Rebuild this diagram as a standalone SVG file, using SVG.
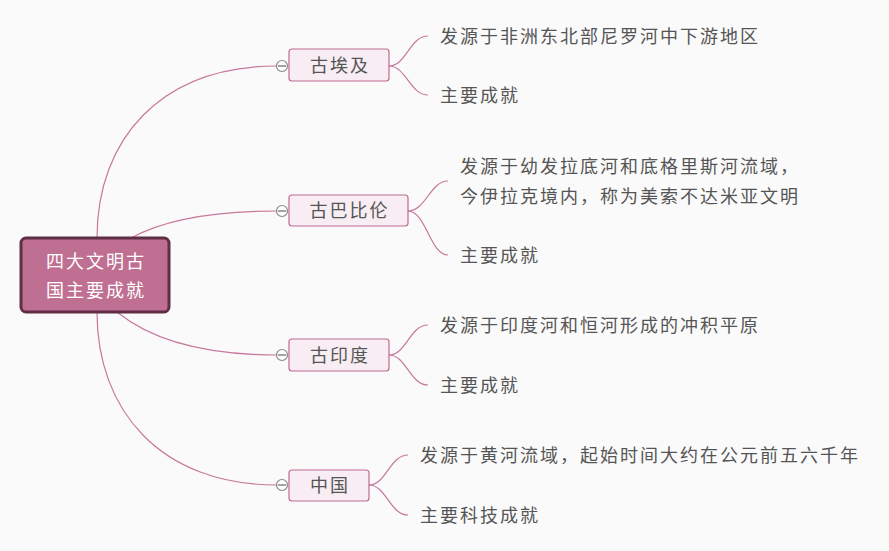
<svg xmlns="http://www.w3.org/2000/svg" width="889" height="551" viewBox="0 0 889 551">
<style>
text{font-family:"Noto Sans CJK SC","Noto Sans",sans-serif;font-size:18px;letter-spacing:2px}
.leaf{fill:#555555}
.bt{fill:#555555;text-anchor:middle}
.rt{fill:#ffffff;text-anchor:middle}
.box{fill:#f7edf3;stroke:#c06a90;stroke-width:1.2}
.root{fill:#bf6f91;stroke:#5e2f45;stroke-width:3}
.con path{fill:none;stroke:#c7789c;stroke-width:1.2}
.tog circle{fill:#ffffff;stroke:#888888;stroke-width:1.2}
.tog line{stroke:#666666;stroke-width:1.2}
</style>
<rect width="889" height="551" fill="#fafafa"/>
<g id="connectors" class="con">
<path d="M97,238 C97,140 160,66 277,66"/>
<path d="M131,238 Q180,211 277,211"/>
<path d="M117,312 Q170,355 277,355"/>
<path d="M97,312 C97,410 160,485 277,485"/>
<path d="M389,66 C406,66 410,36 428,36"/>
<path d="M389,66 C406,66 410,95 428,95"/>
<path d="M408,211 C426,211 430,181 448,181"/>
<path d="M408,211 C426,211 430,255 448,255"/>
<path d="M389,355 C406,355 410,325 428,325"/>
<path d="M389,355 C406,355 410,385 428,385"/>
<path d="M369,485 C386,485 390,455 408,455"/>
<path d="M369,485 C386,485 390,515 408,515"/>
</g>
<g id="root">
<rect class="root" x="21" y="238" width="148" height="74" rx="5"/>
<text class="rt" x="96" y="268">四大文明古</text>
<text class="rt" x="96" y="297">国主要成就</text>
</g>
<g id="egypt">
<rect class="box" x="289" y="49" width="100" height="32" rx="3"/>
<text class="bt" x="340" y="72">古埃及</text>
<g class="tog"><circle cx="282" cy="66" r="5.5"/><line x1="278" y1="66" x2="286" y2="66"/></g>
</g>
<g id="babylon">
<rect class="box" x="289" y="195" width="119" height="31" rx="3"/>
<text class="bt" x="349.5" y="217">古巴比伦</text>
<g class="tog"><circle cx="282" cy="211" r="5.5"/><line x1="278" y1="211" x2="286" y2="211"/></g>
</g>
<g id="india">
<rect class="box" x="289" y="339" width="100" height="32" rx="3"/>
<text class="bt" x="340" y="362">古印度</text>
<g class="tog"><circle cx="282" cy="355" r="5.5"/><line x1="278" y1="355" x2="286" y2="355"/></g>
</g>
<g id="china">
<rect class="box" x="289" y="470" width="80" height="31" rx="3"/>
<text class="bt" x="330" y="492">中国</text>
<g class="tog"><circle cx="282" cy="485" r="5.5"/><line x1="278" y1="485" x2="286" y2="485"/></g>
</g>
<g id="egypt-origin"><text class="leaf" x="440" y="43">发源于非洲东北部尼罗河中下游地区</text></g>
<g id="egypt-ach"><text class="leaf" x="440" y="102">主要成就</text></g>
<g id="babylon-origin"><text class="leaf" x="460" y="173">发源于幼发拉底河和底格里斯河流域，</text><text class="leaf" x="460" y="203">今伊拉克境内，称为美索不达米亚文明</text></g>
<g id="babylon-ach"><text class="leaf" x="460" y="262">主要成就</text></g>
<g id="india-origin"><text class="leaf" x="440" y="332">发源于印度河和恒河形成的冲积平原</text></g>
<g id="india-ach"><text class="leaf" x="440" y="392">主要成就</text></g>
<g id="china-origin"><text class="leaf" x="420" y="462">发源于黄河流域，起始时间大约在公元前五六千年</text></g>
<g id="china-ach"><text class="leaf" x="420" y="522">主要科技成就</text></g>
</svg>
